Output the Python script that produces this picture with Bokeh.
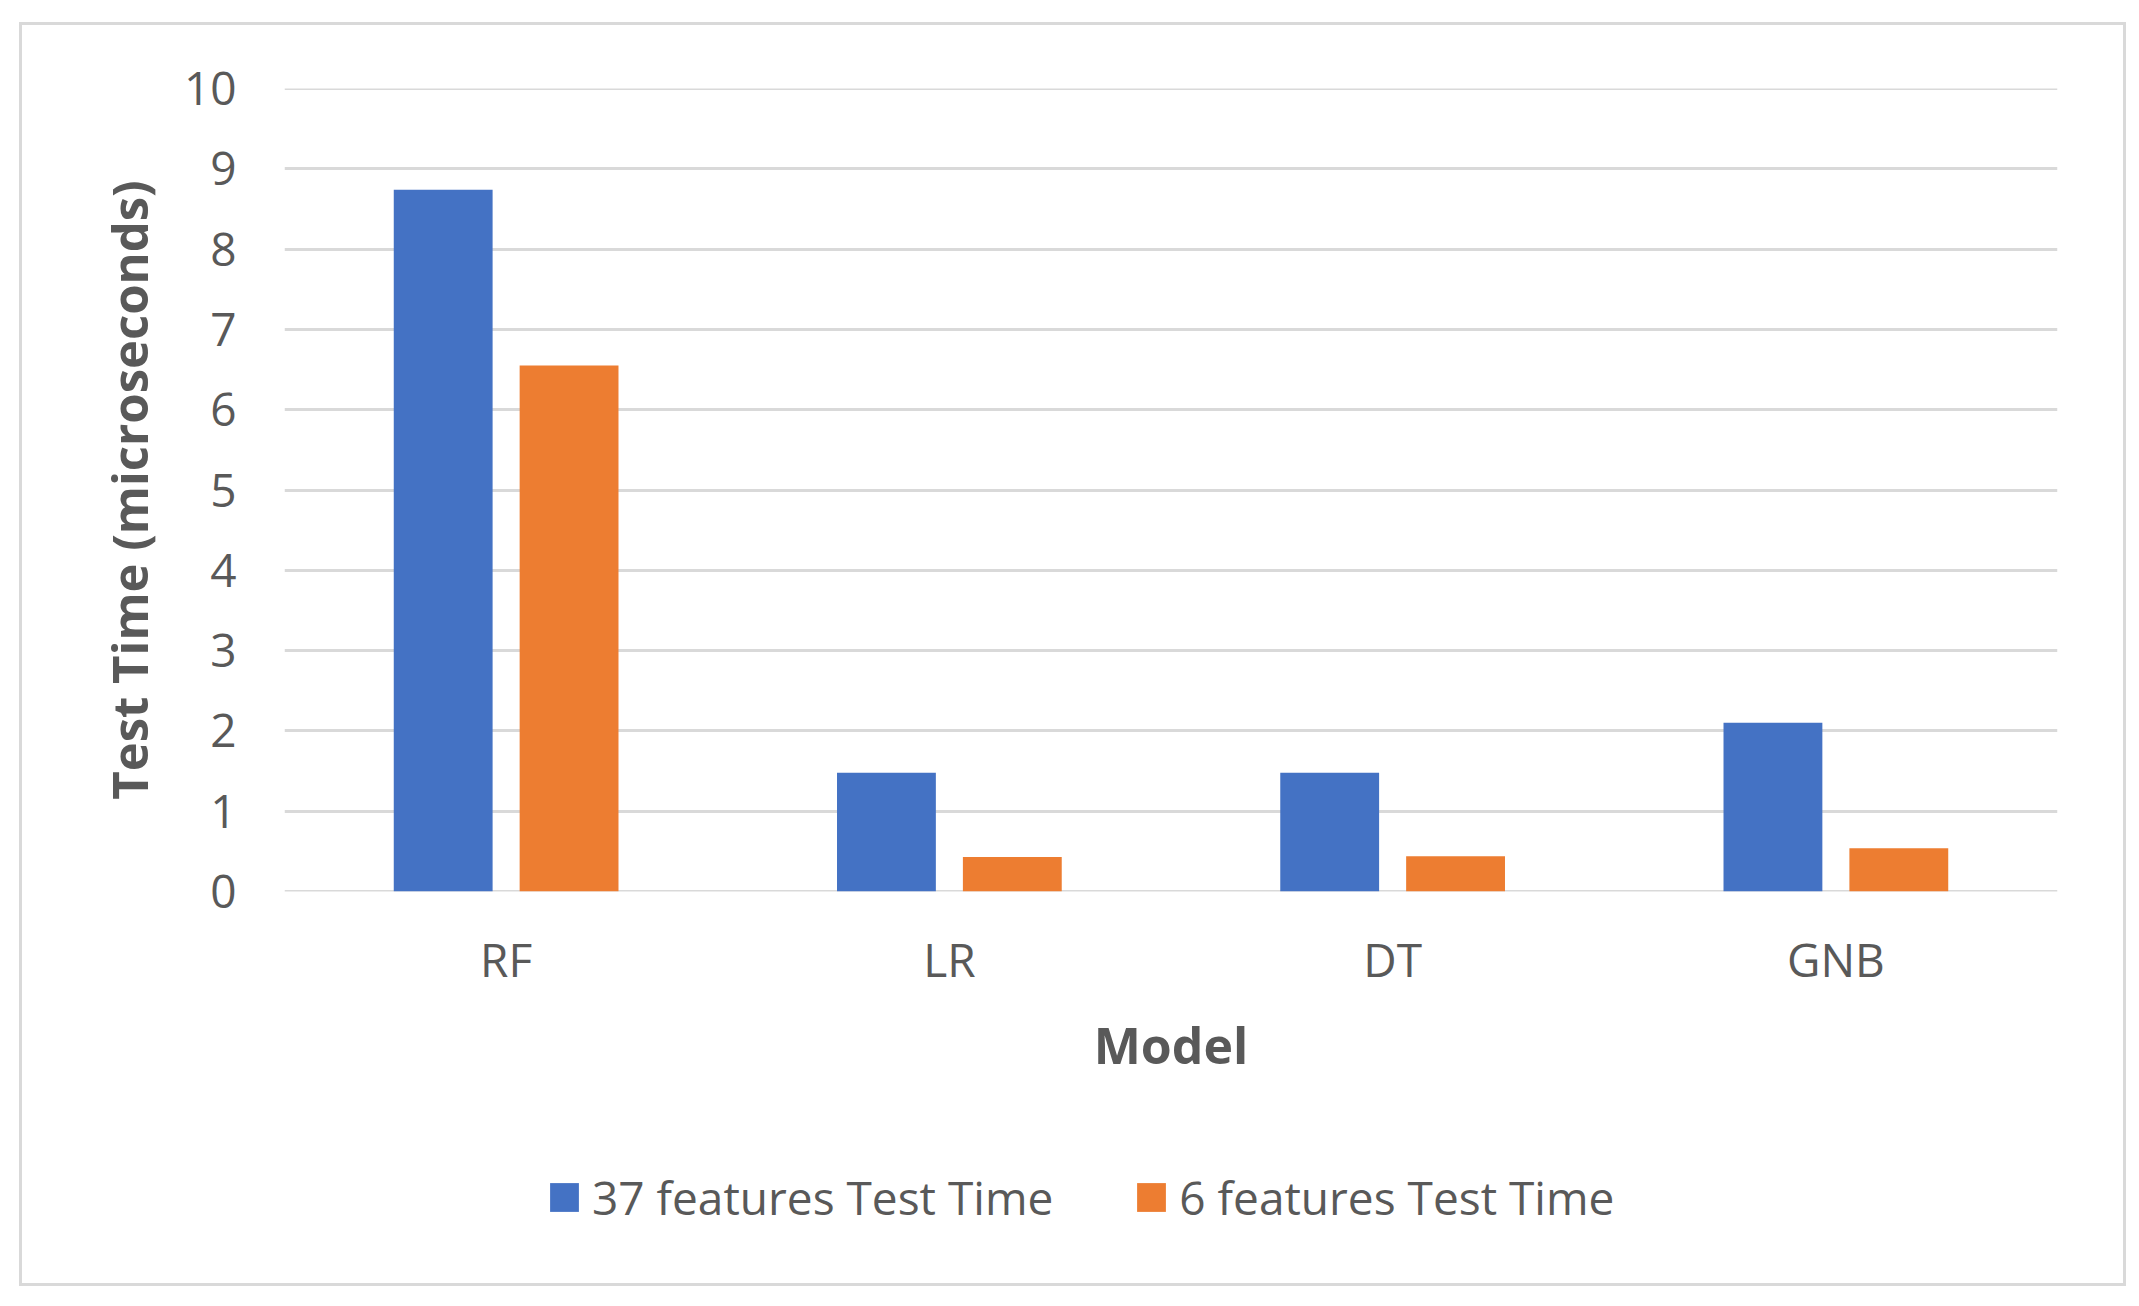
from bokeh.plotting import figure
from bokeh.models import ColumnDataSource, FactorRange, Range1d, FixedTicker, Legend, LegendItem, Span
from bokeh.layouts import column
from bokeh.transform import dodge
from bokeh.embed import file_html
from bokeh.resources import INLINE

models = ["RF", "LR", "DT", "GNB"]
test_time_37 = [8.74, 1.48, 1.48, 2.10]
test_time_6 = [6.55, 0.43, 0.44, 0.54]
y_ticks = [0, 1, 2, 3, 4, 5, 6, 7, 8, 9, 10]
series_names = ["37 features Test Time", "6 features Test Time"]

BLUE = "#4472C4"
ORANGE = "#ED7D31"
TEXT = "#595959"
GRID = "#D9D9D9"
FONT = "Open Sans"
BORDER = "3px solid #D9D9D9"

src = ColumnDataSource(dict(model=models, t37=test_time_37, t6=test_time_6))

W = 2107
p = figure(
    width=W, height=1098,
    x_range=FactorRange(factors=models, range_padding=0),
    y_range=Range1d(y_ticks[0], y_ticks[-1]),
    output_backend="svg", toolbar_location=None,
    min_border_left=262, min_border_right=72, min_border_top=63, min_border_bottom=232,
)
p.styles = {"border-top": BORDER, "border-left": BORDER, "border-right": BORDER,
            "box-sizing": "border-box"}
p.outline_line_color = None
p.background_fill_color = "white"
p.border_fill_color = "white"

r1 = p.vbar(x=dodge("model", -0.142, range=p.x_range), top="t37", width=0.223,
            source=src, fill_color=BLUE, line_color=None)
r2 = p.vbar(x=dodge("model", 0.142, range=p.x_range), top="t6", width=0.223,
            source=src, fill_color=ORANGE, line_color=None)

p.xgrid.grid_line_color = None
p.ygrid.grid_line_color = GRID
p.ygrid.grid_line_width = 3
p.yaxis.ticker = FixedTicker(ticks=y_ticks)
for v in (y_ticks[0], y_ticks[-1]):
    p.add_layout(Span(location=v, dimension="width", line_color=GRID, line_width=3, level="underlay"))

for ax in (p.xaxis[0], p.yaxis[0]):
    ax.axis_line_color = None
    ax.major_tick_line_color = None
    ax.minor_tick_line_color = None
    ax.major_label_text_font = FONT
    ax.major_label_text_font_size = "46px"
    ax.major_label_text_color = TEXT
    ax.axis_label_text_font = FONT
    ax.axis_label_text_font_style = "bold"
    ax.axis_label_text_color = TEXT

p.xaxis.axis_label = "Model"
p.yaxis.axis_label = "Test Time (microseconds)"
p.xaxis.axis_label_text_font_size = "50px"
p.yaxis.axis_label_text_font_size = "49px"
p.yaxis.major_label_standoff = 42
p.yaxis.axis_label_standoff = 19
p.xaxis.major_label_standoff = 30
p.xaxis.axis_label_standoff = 18

# legend strip below the chart (its hidden bars only supply the legend swatches)
pl = figure(width=W, height=166,
            x_range=FactorRange(factors=models, range_padding=0),
            y_range=Range1d(20, 21),
            output_backend="svg", toolbar_location=None,
            x_axis_location=None, y_axis_location=None, min_border=0)
pl.styles = {"border-bottom": BORDER, "border-left": BORDER, "border-right": BORDER,
             "box-sizing": "border-box"}
pl.grid.visible = False
pl.outline_line_color = None
l1 = pl.vbar(x=dodge("model", -0.142, range=pl.x_range), top="t37", width=0.223,
             source=src, fill_color=BLUE, line_color=None, visible=False)
l2 = pl.vbar(x=dodge("model", 0.142, range=pl.x_range), top="t6", width=0.223,
             source=src, fill_color=ORANGE, line_color=None, visible=False)

legend = Legend(
    items=[LegendItem(label=series_names[0], renderers=[l1]),
           LegendItem(label=series_names[1], renderers=[l2])],
    location=(262, 58), orientation="horizontal",
    glyph_width=36, glyph_height=36, label_standoff=10, spacing=80,
    padding=0, margin=0, border_line_color=None, background_fill_alpha=0,
    label_text_font=FONT, label_text_font_size="46px", label_text_color=TEXT,
)
pl.add_layout(legend, "center")

layout = column(p, pl, spacing=0)
layout.margin = (22, 0, 0, 19)

open("out.html", "w").write(file_html(layout, INLINE))
